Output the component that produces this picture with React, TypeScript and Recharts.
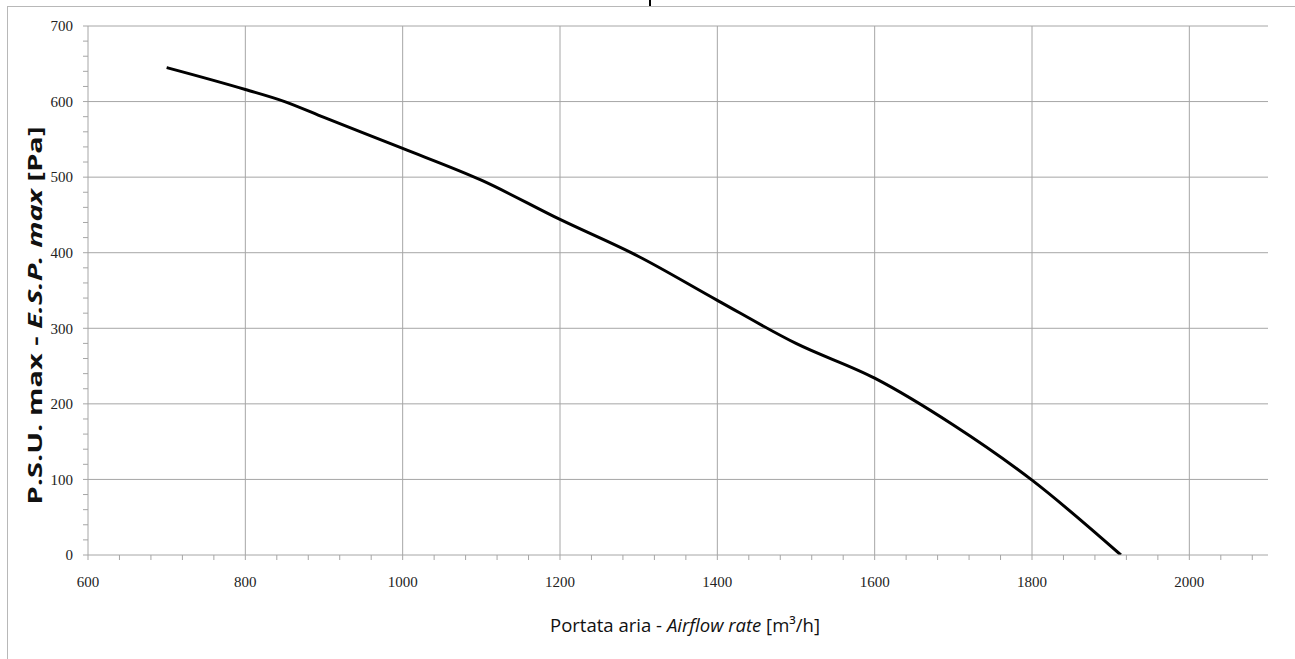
import React from "react";
import { LineChart, Line, XAxis, YAxis, ReferenceLine } from "recharts";

const airflow = [700, 800, 850, 900, 1000, 1100, 1200, 1300, 1400, 1500, 1600, 1700, 1800, 1913];
const pressure = [645, 616, 600, 579, 538, 496, 444, 395, 337, 280, 234, 172, 99, 0];

const xTicks = [600, 640, 680, 720, 760, 800, 840, 880, 920, 960, 1000, 1040, 1080, 1120, 1160, 1200, 1240, 1280, 1320, 1360, 1400, 1440, 1480, 1520, 1560, 1600, 1640, 1680, 1720, 1760, 1800, 1840, 1880, 1920, 1960, 2000, 2040, 2080];
const yTicks = [0, 20, 40, 60, 80, 100, 120, 140, 160, 180, 200, 220, 240, 260, 280, 300, 320, 340, 360, 380, 400, 420, 440, 460, 480, 500, 520, 540, 560, 580, 600, 620, 640, 660, 680, 700];
const xGrid = [800, 1000, 1200, 1400, 1600, 1800, 2000];
const yGrid = [100, 200, 300, 400, 500, 600, 700];

const data = airflow.map((x, i) => ({ x, y: pressure[i] }));

const gridColor = "#a6a6a6";
const tickFont = { fontFamily: "Liberation Serif", fontSize: 15, fill: "#222" };

const YTitle = (props: any) => {
  const vb = props.viewBox || { x: 0, y: 0, width: 0, height: 0 };
  const cx = 35;
  const cy = vb.y + vb.height / 2 + 25;
  return (
    <text
      x={cx}
      y={cy}
      transform={`rotate(-90, ${cx}, ${cy})`}
      textAnchor="middle"
      dominantBaseline="central"
      textLength={378}
      lengthAdjust="spacingAndGlyphs"
      style={{ fontFamily: "Open Sans", fontSize: 19, fontWeight: 700, fill: "#111" }}
    >
      P.S.U. max - <tspan fontStyle="italic">E.S.P. max</tspan> [Pa]
    </text>
  );
};

const XTitle = (props: any) => {
  const vb = props.viewBox || { x: 0, y: 0, width: 0, height: 0 };
  const cx = vb.x + vb.width / 2 + 7;
  const cy = 625;
  return (
    <text
      x={cx}
      y={cy}
      textAnchor="middle"
      dominantBaseline="central"
      textLength={270}
      lengthAdjust="spacingAndGlyphs"
      style={{ fontFamily: "Open Sans", fontSize: 19, fill: "#111" }}
    >
      Portata aria - <tspan fontStyle="italic">Airflow rate</tspan> [m³/h]
    </text>
  );
};

export default function App() {
  return (
    <div style={{ position: "absolute", left: 0, top: 0, width: 1295, height: 659, background: "#fff", overflow: "hidden" }}>
      <div style={{ position: "absolute", left: 7, top: 6, width: 1400, height: 800, borderLeft: "1px solid #b8b8b8", borderTop: "1px solid #b8b8b8" }} />
      <div style={{ position: "absolute", left: 649, top: 0, width: 2, height: 6, background: "#000" }} />
      <div style={{ position: "absolute", left: 0, top: 0 }}>
        <LineChart width={1295} height={659} data={data} margin={{ top: 26, right: 27, bottom: 0, left: 28 }}>
          {xGrid.map((v) => (
            <ReferenceLine key={"gx" + v} x={v} stroke={gridColor} strokeWidth={1} />
          ))}
          {yGrid.map((v) => (
            <ReferenceLine key={"gy" + v} y={v} stroke={gridColor} strokeWidth={1} />
          ))}
          <XAxis
            dataKey="x"
            type="number"
            domain={[600, 2100]}
            ticks={xTicks}
            interval={0}
            allowDataOverflow
            tickFormatter={(v: number) => (v % 200 === 0 ? String(v) : "")}
            tick={tickFont}
            tickLine={{ stroke: gridColor }}
            tickSize={5}
            tickMargin={16}
            axisLine={{ stroke: gridColor }}
            height={104}
            label={<XTitle />}
          />
          <YAxis
            dataKey="y"
            type="number"
            domain={[0, 700]}
            ticks={yTicks}
            interval={0}
            allowDataOverflow
            tickFormatter={(v: number) => (v % 100 === 0 ? String(v) : "")}
            tick={tickFont}
            tickLine={{ stroke: gridColor }}
            tickSize={5}
            tickMargin={10}
            axisLine={{ stroke: gridColor }}
            width={60}
            label={<YTitle />}
          />
          <Line
            type="monotone"
            dataKey="y"
            stroke="#000"
            strokeWidth={3}
            dot={false}
            isAnimationActive={false}
          />
        </LineChart>
      </div>
    </div>
  );
}
